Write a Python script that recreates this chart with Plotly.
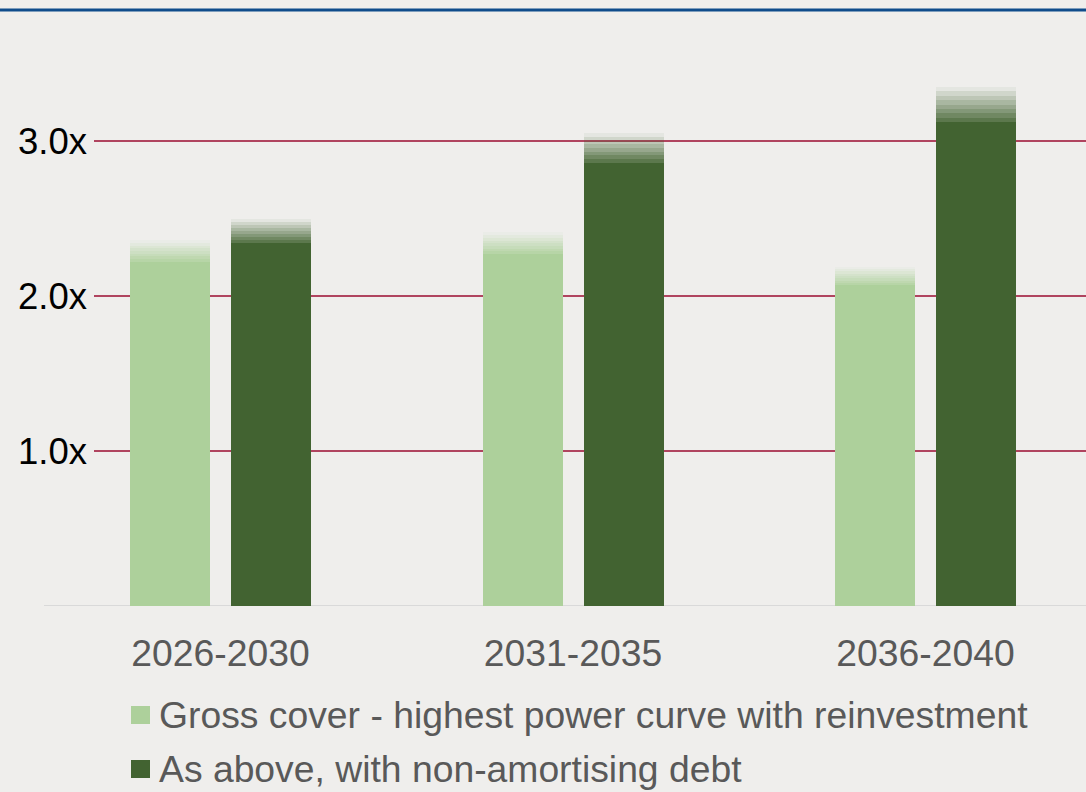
import plotly.graph_objects as go

# Coverage ratios by period; each bar has a solid part and a faded upper range
periods = ["2026-2030", "2031-2035", "2036-2040"]
gross_cover_low = [2.22, 2.27, 2.07]
gross_cover_high = [2.36, 2.41, 2.19]
non_amort_low = [2.34, 2.86, 3.12]
non_amort_high = [2.50, 3.05, 3.35]

y_ticks = [1.0, 2.0, 3.0]
y_tick_text = ["1.0x", "2.0x", "3.0x"]

series_names = [
    "Gross cover - highest power curve with reinvestment",
    "As above, with non-amortising debt",
]

LIGHT = (173, 208, 155)
DARK = (66, 99, 49)
BG = "#EFEEEC"
FONT = "Liberation Sans, Arial, sans-serif"

# figure geometry (pixels)
W, H = 1086, 792
L, R, T, B = 94, 0, 30, 186
PW, PH = W - L - R, H - T - B

BAR_W = 0.227
OFFSETS = [-0.2567, 0.0298]
N_BANDS = 8


def rgba(c, a):
    return f"rgba({c[0]},{c[1]},{c[2]},{a:.3f})"


fig = go.Figure()

for lo, hi, col, off in [
    (gross_cover_low, gross_cover_high, LIGHT, OFFSETS[0]),
    (non_amort_low, non_amort_high, DARK, OFFSETS[1]),
]:
    n = len(periods)
    fig.add_trace(go.Bar(
        x=periods, y=lo, base=[0] * n,
        width=[BAR_W] * n, offset=[off] * n,
        marker=dict(color=rgba(col, 1), line=dict(width=0)),
        showlegend=False, hoverinfo="skip",
    ))
    # stepped fade over the upper range
    for k in range(N_BANDS):
        alpha = 0.85 - 0.79 * k / (N_BANDS - 1)
        step = [(h - l) / N_BANDS for l, h in zip(lo, hi)]
        base = [l + s * k for l, s in zip(lo, step)]
        fig.add_trace(go.Bar(
            x=periods, y=step, base=base,
            width=[BAR_W] * n, offset=[off] * n,
            marker=dict(color=rgba(col, alpha), line=dict(width=0)),
            showlegend=False, hoverinfo="skip",
        ))


def px_x(px):
    return (px - L) / PW


def px_y(py):
    return (H - B - py) / PH


shapes = [
    # baseline
    dict(type="line", xref="paper", yref="y", x0=px_x(44), x1=1, y0=0, y1=0,
         line=dict(color="#D9D9D9", width=2), layer="below"),
    # top rule
    dict(type="line", xref="paper", yref="paper", x0=px_x(0), x1=1,
         y0=px_y(10), y1=px_y(10), line=dict(color="#0F4C8B", width=3)),
]

annotations = []
for i, (name, col) in enumerate(zip(series_names, [LIGHT, DARK])):
    cy = 715 + 54 * i
    shapes.append(dict(
        type="rect", xref="paper", yref="paper",
        x0=px_x(131), x1=px_x(150), y0=px_y(cy - 9), y1=px_y(cy + 9),
        fillcolor=rgba(col, 1), line=dict(width=0),
    ))
    annotations.append(dict(
        xref="paper", yref="paper", x=px_x(157), y=px_y(cy),
        xanchor="left", yanchor="middle", showarrow=False, text=name,
        font=dict(family=FONT, size=37.3, color="#595959"),
    ))

fig.update_layout(
    width=W, height=H,
    margin=dict(l=L, r=R, t=T, b=B, pad=0),
    paper_bgcolor=BG, plot_bgcolor=BG,
    barmode="overlay", bargap=0,
    showlegend=False,
    shapes=shapes, annotations=annotations,
    xaxis=dict(
        type="category", range=[-0.3589, 2.4553],
        showgrid=False, zeroline=False, showline=False, ticks="",
        tickfont=dict(family=FONT, size=37.3, color="#595959"),
        ticklabelstandoff=22,
    ),
    yaxis=dict(
        range=[0, 576 / 155], tickvals=y_ticks, ticktext=y_tick_text,
        showgrid=True, gridcolor="#B0445F", gridwidth=1.5,
        zeroline=False, showline=False, ticks="",
        tickfont=dict(family=FONT, size=36.5, color="#000000"),
        ticklabelstandoff=6,
    ),
)

fig.write_html("out.html")
